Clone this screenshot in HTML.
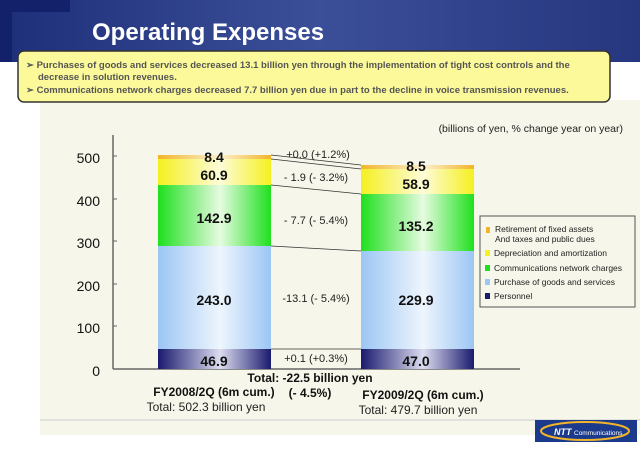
<!DOCTYPE html>
<html><head><style>
body{margin:0;width:640px;height:445px;overflow:hidden;background:#fff;font-family:"Liberation Sans",sans-serif}
</style></head><body>
<svg width="640" height="445" xmlns="http://www.w3.org/2000/svg" font-family="Liberation Sans, sans-serif">
<defs>
<linearGradient id="hdr" x1="0" x2="1"><stop offset="0" stop-color="#1e2f7a"/><stop offset="0.5" stop-color="#3b4f98"/><stop offset="1" stop-color="#26367f"/></linearGradient>
<linearGradient id="pu" x1="0" x2="1"><stop offset="0" stop-color="#9cc6f4"/><stop offset="0.55" stop-color="#eef5fd"/><stop offset="1" stop-color="#9cc6f4"/></linearGradient>
<linearGradient id="gr" x1="0" x2="1"><stop offset="0" stop-color="#1ee01e"/><stop offset="0.55" stop-color="#e6fbe0"/><stop offset="1" stop-color="#1ee01e"/></linearGradient>
<linearGradient id="ye" x1="0" x2="1"><stop offset="0" stop-color="#f5f020"/><stop offset="0.55" stop-color="#fdfcd8"/><stop offset="1" stop-color="#f5f020"/></linearGradient>
<linearGradient id="pe" x1="0" x2="1"><stop offset="0" stop-color="#1a1a6e"/><stop offset="0.55" stop-color="#dcdcf0"/><stop offset="1" stop-color="#1a1a6e"/></linearGradient>
<linearGradient id="or" x1="0" x2="1"><stop offset="0" stop-color="#f2b52a"/><stop offset="0.55" stop-color="#fdf0cc"/><stop offset="1" stop-color="#f2b52a"/></linearGradient>
</defs>
<rect x="0" y="0" width="640" height="62" fill="url(#hdr)"/>
<rect x="0" y="0" width="70" height="12" fill="#13206a"/>
<rect x="0" y="12" width="12" height="50" fill="#13206a"/>
<text x="92" y="40" font-size="24" font-weight="bold" fill="#fff">Operating Expenses</text>
<rect x="40" y="100" width="600" height="335" fill="#f6f6ea"/>
<rect x="18" y="51" width="592" height="51" rx="6" fill="#fbf99a" stroke="#333" stroke-width="1.5"/>
<g font-size="9.5" font-weight="bold" fill="#555">
<text x="26" y="68">➢ Purchases of goods and services decreased 13.1 billion yen through the implementation of tight cost controls and the</text>
<text x="38" y="80">decrease in solution revenues.</text>
<text x="26" y="93">➢ Communications network charges decreased 7.7 billion yen due in part to the decline in voice transmission revenues.</text>
</g>
<text x="623" y="132" font-size="10.5" text-anchor="end" fill="#222">(billions of yen, % change year on year)</text>
<line x1="113" y1="135" x2="113" y2="369" stroke="#666" stroke-width="1.5"/>
<line x1="113" y1="369" x2="520" y2="369" stroke="#666" stroke-width="1.5"/>
<g stroke="#666"><line x1="113" y1="156" x2="117" y2="156"/><line x1="113" y1="199" x2="117" y2="199"/><line x1="113" y1="241" x2="117" y2="241"/><line x1="113" y1="284" x2="117" y2="284"/><line x1="113" y1="326" x2="117" y2="326"/></g>
<g font-size="14" text-anchor="end" fill="#111"><text x="100" y="163">500</text><text x="100" y="206">400</text><text x="100" y="248">300</text><text x="100" y="291">200</text><text x="100" y="333">100</text><text x="100" y="376">0</text></g>
<!-- left bar -->
<rect x="158" y="155" width="113" height="4" fill="url(#or)"/>
<rect x="158" y="159" width="113" height="26" fill="url(#ye)"/>
<rect x="158" y="185" width="113" height="61" fill="url(#gr)"/>
<rect x="158" y="246" width="113" height="103" fill="url(#pu)"/>
<rect x="158" y="349" width="113" height="20" fill="url(#pe)"/>
<!-- right bar -->
<rect x="361" y="165" width="113" height="4" fill="url(#or)"/>
<rect x="361" y="169" width="113" height="25" fill="url(#ye)"/>
<rect x="361" y="194" width="113" height="57" fill="url(#gr)"/>
<rect x="361" y="251" width="113" height="98" fill="url(#pu)"/>
<rect x="361" y="349" width="113" height="20" fill="url(#pe)"/>
<g stroke="#333" stroke-width="0.8"><line x1="271" y1="155" x2="361" y2="165"/><line x1="271" y1="159" x2="361" y2="169"/><line x1="271" y1="185" x2="361" y2="194"/><line x1="271" y1="246" x2="361" y2="251"/><line x1="271" y1="349" x2="361" y2="349"/></g>
<g font-size="14" font-weight="bold" text-anchor="middle" fill="#111">
<text x="214" y="162">8.4</text><text x="214" y="180">60.9</text><text x="214" y="223">142.9</text><text x="214" y="305">243.0</text><text x="214" y="366">46.9</text>
<text x="416" y="171">8.5</text><text x="416" y="189">58.9</text><text x="416" y="231">135.2</text><text x="416" y="305">229.9</text><text x="416" y="366">47.0</text>
</g>
<g font-size="11" text-anchor="middle" fill="#222">
<text x="318" y="158">+0.0 (+1.2%)</text><text x="316" y="181">- 1.9 (- 3.2%)</text><text x="316" y="224">- 7.7 (- 5.4%)</text><text x="316" y="302">-13.1 (- 5.4%)</text><text x="316" y="362">+0.1 (+0.3%)</text>
</g>
<g font-size="12" font-weight="bold" fill="#111" text-anchor="middle">
<text x="310" y="382">Total: -22.5 billion yen</text><text x="310" y="397">(- 4.5%)</text>
<text x="214" y="396">FY2008/2Q (6m cum.)</text><text x="423" y="399">FY2009/2Q (6m cum.)</text>
</g>
<g font-size="12" fill="#222" text-anchor="middle"><text x="206" y="411">Total: 502.3 billion yen</text><text x="418" y="414">Total: 479.7 billion yen</text></g>
<!-- legend -->
<rect x="480" y="216" width="155" height="91" fill="#f6f6ea" stroke="#555"/>
<g font-size="8.5" fill="#222">
<rect x="486" y="227" width="4" height="6" fill="#f2b52a"/><text x="495" y="232">Retirement of fixed assets</text><text x="495" y="242">And taxes and public dues</text>
<rect x="485" y="250" width="5" height="6" fill="#f5f020"/><text x="494" y="256">Depreciation and amortization</text>
<rect x="485" y="265" width="5" height="6" fill="#1ee01e"/><text x="494" y="271">Communications network charges</text>
<rect x="485" y="279" width="5" height="6" fill="#9cc6f4"/><text x="494" y="285">Purchase of goods and services</text>
<rect x="485" y="293" width="5" height="6" fill="#1a1a6e"/><text x="494" y="299">Personnel</text>
</g>
<line x1="40" y1="420" x2="640" y2="420" stroke="#ccc"/>
<rect x="535" y="420" width="102" height="22" fill="#1c3a8c"/>
<ellipse cx="585" cy="431" rx="44" ry="9" fill="none" stroke="#f2b52a" stroke-width="2"/>
<text x="554" y="435" font-size="9" font-weight="bold" font-style="italic" fill="#fff">NTT</text><text x="574" y="435" font-size="6.5" fill="#fff">Communications</text>
</svg>
</body></html>
